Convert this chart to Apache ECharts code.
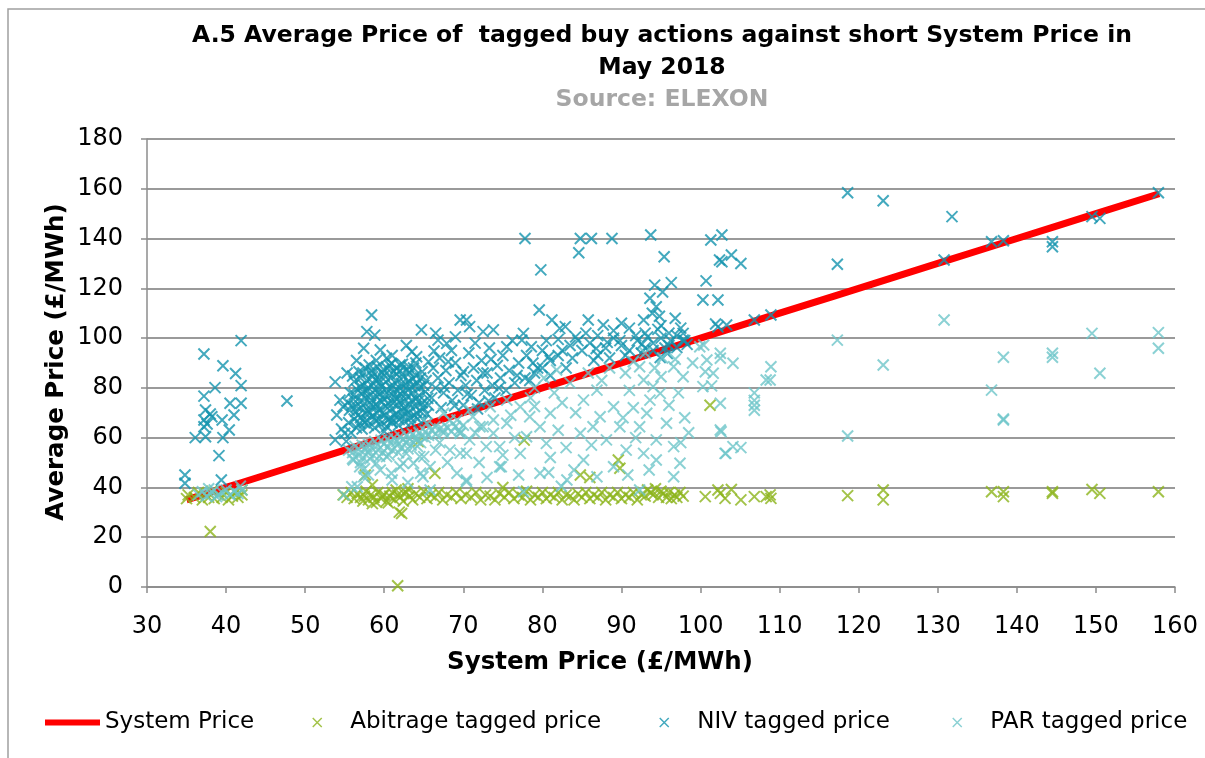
<!DOCTYPE html>
<html>
<head>
<meta charset="utf-8">
<script src="https://cdn.jsdelivr.net/npm/echarts@6/dist/echarts.min.js"></script>
<style>html,body{margin:0;padding:0;background:#fff;}#c{width:1205px;height:758px;}</style>
</head>
<body>
<div id="c"></div>
<script>
// ---- Data ----
var xTicks = [30,40,50,60,70,80,90,100,110,120,130,140,150,160];
var yTicks = [0,20,40,60,80,100,120,140,160,180];

// System price values (the line plots system price against itself)
var systemPrice = [35,37,38,40,42,48,54,55,57,60,65,70,75,80,85,90,95,98,101,103,105,107,109,117,118.6,123,131,137,138,144.5,149.5,150.5,158];

var abitrage = [
[35,35.5],[35.2,37],[36,36],[36.5,38],[37,35],[37.3,37.5],[37.8,36],[38.2,38.5],[38.5,35.5],[39,37],[39.5,36],[40,38],[40.3,35],[40.8,36.5],[41.2,38],[41.5,36],[42,37],[42,39],[38,22.3],
[54.8,37],[55.3,36],[55.8,38],[56.2,35.5],[56.6,37.5],[57,36],[57.3,34.5],[57.7,38.5],[58,35],[58.3,37],[58.7,36],[59,34],[59.2,38],[59.6,35.5],[60,37],[60.3,34.5],[60.7,36.5],[61,38],[61.3,35],[61.7,37],[62,36],[62.4,34.5],[62.8,38],[63.2,36.5],[63.6,35],[64,37.5],[64.5,36],[65,38.5],[65.4,35.5],[65.9,37],[66.4,36],[66.9,38],[67.4,35],[67.9,37],[68.5,36],[69.1,38],[69.7,35.5],[70.3,37],[71,36],[71.6,38],[72.2,35],[72.8,37],[73.4,36.5],[74,35],[74.6,37.5],[75.2,36],[75.8,38],[76.4,35.5],[77,37],[77.5,36],[78,38.5],[78.5,35],[79,37],[79.5,36],[80,38],[80.5,35.5],[81,37],[81.5,36],[82,38],[82.5,35],[83,37],[83.5,36.5],[84,35],[84.5,37.5],[85,36],[85.5,38],[86,35.5],[86.5,37],[87,36],[87.5,38],[88,35],[88.5,37],[89,36],[89.5,38],[90,35.5],[90.5,37],[91,36],[91.5,38],[92,35],[92.5,37],[93,36.5],[93.3,39],[93.7,38],[94,37],[94.3,39.5],[94.7,36],[95,38.5],[95.3,37.5],[95.7,36],[96,38],[96.3,35.5],[96.7,37],[97,36],[97.4,38],[97.8,36.5],[58.5,33.5],[60.5,33.8],[59.8,36.8],[61.5,39],[62.5,37.5],[57.5,36.5],
[57.6,45],[66.4,45.7],[84.8,45],[89.8,47.7],[89.6,51],[77.7,59],[64.3,58.4],[61.9,30.1],[62.2,29.5],[61.7,0.5],[101.2,73],[58.5,41],[86,44],[75,40],[63,39.5],
[100.6,36.3],[102.2,39],[102.5,37.6],[103.1,35.6],[103.9,39.2],[105.1,35],[106.8,36.3],[108.3,36.3],[108.8,37],[108.9,35.6],
[118.6,36.7],[123.1,39],[123.1,35],[136.8,38.3],[138.3,38.3],[138.3,36.3],[144.5,38.3],[144.5,37.6],[149.5,39.2],[150.5,37.6],[157.9,38.3]
];

var niv = [
[41.9,99],[37.2,93.6],[39.6,88.9],[41.2,85.8],[41.9,80.9],[38.6,80.1],[37.2,76.7],[40.5,73.8],[41.9,73.8],[37.4,71.1],[38.2,68.4],[41.0,69.1],[39.5,67.1],[37.2,67.1],[37.2,64.4],[37.6,65.5],[38.0,69.5],[40.4,63.1],[36.1,60.0],[37.4,60.4],[39.6,60.0],[39.1,52.8],[34.8,45.0],[34.8,41.7],[39.4,43.0],[47.7,74.7],[53.8,82.4],
[55.8,62],[56.5,64],[57.2,63.5],[58,65],[58.8,64],[59.5,65.5],[60.3,64.5],[61,66],[61.8,65],[62.6,66.5],[63.4,66],[64.2,67.5],[65,67],
[55.5,66],[56.2,67.5],[57,68],[57.8,67],[58.5,68.5],[59.3,67.5],[60,69],[60.8,68],[61.5,69.5],[62.3,68.5],[63,70],[63.8,69],[64.6,70.5],[65.4,69.5],
[55.6,71],[56.4,70.5],[57.1,72],[57.9,71],[58.7,72.5],[59.4,71.5],[60.2,72.5],[61,71.5],[61.7,73],[62.5,72],[63.2,73.5],[64,72.5],[64.8,74],[65.6,73],
[55.4,74],[56.1,75.5],[56.9,74.5],[57.6,76],[58.4,75],[59.1,76.5],[59.9,75.5],[60.6,77],[61.4,76],[62.1,77.5],[62.9,76.5],[63.6,78],[64.4,77],[65.2,78.5],
[55.7,78],[56.5,79.5],[57.3,78.5],[58,80],[58.8,79],[59.6,80.5],[60.3,79.5],[61.1,81],[61.9,80],[62.7,81.5],[63.4,80.5],[64.2,82],[65,81],
[56.2,82.5],[57,84],[57.8,83],[58.5,84.5],[59.3,83.5],[60,85],[60.8,84],[61.6,85.5],[62.4,84.5],[63.2,86],[64,85],[64.8,86.5],
[56.8,86.5],[57.6,88],[58.4,87],[59.1,88.5],[59.9,87.5],[60.7,89],[61.5,88],[62.3,89.5],[63.1,88.5],[64,90],
[57.5,66],[58.2,70],[59,73.5],[59.8,70],[60.5,74],[61.2,78],[59.4,82],[58.2,77],[57.4,81],[60.9,66.5],[62,75],[63,79],[64,75.5],[62.8,71],[61.5,83],[58.6,86],[56.5,72.5],[57.2,77.5],[60,62.5],[59.2,78.2],[63.6,83.5],[64.5,80],[58.9,66.8],[61.3,69],[62.2,81.8],
[56.9,65.8],[57.7,69.5],[58.3,73.2],[59.1,69.8],[59.7,74.2],[60.4,67],[61.1,73.8],[61.9,67.3],[62.6,74.5],[63.3,68],[64.1,70],[64.9,72],[65.5,75.8],[56.2,77.4],[57,80.6],[57.9,78.8],[58.6,81.8],[59.5,77.8],[60.2,82.5],[60.9,79.8],[61.7,78.6],[62.4,79],[63.1,82.8],[63.9,80.8],[64.6,84],[65.3,83],[56,84.8],[57.3,86],[58.1,89.2],[59.7,86.2],[60.4,87.8],[61.2,86.6],[62,87],[62.9,87.2],[63.7,88],[56.7,69],[55.9,73],[57.5,73.8],[60.1,77.2],[62.3,70.5],[63.5,75.2],[64.3,74.6],[61.6,75.4],[58.9,83.4],
[58.4,109.3],[57.8,102.6],[58.8,101.2],[57.4,95.9],[59.5,95.2],[60.3,91.9],[60.9,89.9],[63.5,94.5],[64.7,103.3],[66.8,99.2],[67.9,97.9],[68.1,90.5],[65.6,90.5],[62,89.2],[61,93],[59,91],[56.5,91],[62.8,97],[64.1,92.5],[66.3,94.8],[55.3,86],
[54.4,75.1],[54.8,72.4],[54,69.1],[53.8,59.1],[55,61.8],[54.6,63.5],[55.2,58.5],
[66,76],[66.5,80],[66.8,84],[67.2,72],[67.5,78],[67.8,87],[68.2,82],[68.6,75],[69,90],[69.3,79],[69.7,85],[70,73],[70.3,81],[70.7,94],[71,77],[71.3,88],[71.7,83],[72,74],[72.3,91],[72.7,79],[73,86],[73.3,96],[73.7,81],[74,76],[74.3,89],[74.7,84],[75,93],[75.4,79],[75.8,87],[76.2,99],[76.5,82],[77,90],[66.2,88],[67,92],[68.5,95],[70,86.5],[71.5,98],[72.5,86],[73.5,91.5],[74.5,80],[75.5,96.5],[76.8,85],[69.6,107.3],[70.4,107.3],[72.5,102.6],[73.8,103.3],[70.8,104.6],[69,100.5],[66.5,102],[67.6,80.3],[68.9,72.8],[70.5,77.5],[71.8,71.5],[73.2,74.7],
[77.6,101.9],[77.4,99.2],[78,93],[78.8,90],[79.4,88],[78.4,83],[80,88],[81,91],[82,93],[80,95],[79,86],[83,88],[77.8,84],[81,85],[82.5,95],[83.5,97],[79.6,111.3],[81.2,107.3],[82.2,103.9],[82.9,104.6],[79.8,127.4],[77.8,140],[80.5,99],[82,99.5],[83.8,92],[84.2,100.5],[80.8,92.5],[78.6,96.5],
[84.8,140],[86.2,140],[88.8,140],[93.7,141.4],[84.6,134.3],[95.4,132.7],[94.2,121.3],[96.3,122.3],[93.6,116],[94.4,112.6],[85.8,107.3],[92.8,107.3],[96.8,108],[87.7,105.3],[90,106],[85,95],[86,98],[87,93],[88,96],[89,100],[90,97],[91,95],[92,99],[93,96],[94,98],[95,100],[96,97],[97,101],[98,99],[86.5,91],[88.5,92],[90.5,93],[92.5,94],[94,95],[95.5,96],[93,102],[91,104],[89,103],[87,101],[96,102],[97.5,104],[85.5,102],[84.5,99],[93.3,100.5],[94.6,103.5],[95,105],[96.2,99],[97.8,101.9],[97.8,99.2],[91.8,101],[89.8,99],[88.2,98.3],[86.8,95.8],[92.6,97.6],[95.8,93.8],[94.9,92.2],[97,96.2],[98.3,97.5],[93.9,110],[95.2,118.5],[94.8,108.8],
[101.3,139.4],[102.7,141.4],[102.4,131.4],[102.7,130.7],[103.9,133.4],[105.1,130],[100.7,123],[100.3,115.3],[102.2,115.3],[101.9,105.7],[103.3,105.3],[106.8,107.3],[108.9,109.3],[102.2,104.5],
[118.6,158.4],[123.1,155.2],[131.8,148.8],[157.9,158.4],[149.5,148.8],[150.5,148.1],[136.8,138.7],[138.3,139.1],[144.5,138.7],[144.5,136.7],[130.8,131.4],[117.3,129.7]
];

var par = [
[36.5,37],[37,38.3],[37.5,36.5],[38,37.5],[38.5,39],[39,37],[39.5,38],[40,39],[40.5,37],[41,38.5],[41.5,37.5],[42,39],[41.8,40.5],[38.8,36.3],[37.8,39.5],
[55.5,55],[56,54],[56.3,56.5],[56.8,55.5],[57.2,57],[57.6,55],[58,57.5],[58.4,56],[58.8,58.5],[59.2,57],[59.6,59],[60,57.5],[60.4,59.5],[60.8,58],[61.2,60],[61.6,58.5],[62,60.5],[62.4,59],[62.8,61],[63.2,59.5],[63.6,61.5],[64,60],[64.4,62],[64.8,60.5],[65.2,62.5],[65.6,61],[66,63],[66.5,61.5],[67,63.5],[67.5,62],[68,64],[68.5,62.5],[69,64.5],[69.5,63],[70,65],
[56,51.5],[56.7,53],[57.3,52],[58,54],[58.6,53],[59.2,55],[59.8,54],[60.4,56],[61,55],[61.6,57],[62.2,56],[62.8,58],[63.4,57],[64,59],[64.6,58],[65.2,60],[57,50],[58.2,51.5],[59.4,52.5],[60.6,53],[61.8,54],[63,55.5],[64.2,56.5],
[56.1,51],[56.9,48.3],[57.8,56.4],[55.9,40.3],[54.9,37],[56.6,40.3],[57.4,44.3],[59.5,47],[62,48.3],[63.7,49.7],[65,52.4],[64.6,45.7],[65.8,39],[59,49.7],[60.3,52.4],[60.9,45.7],[62.4,49.7],[62.8,53.7],[64.5,52.4],[65.8,48.3],[64.9,44.3],[58,45],[61,43],[63,42],[57.5,47.5],
[65.4,65.8],[66.4,64.4],[67.5,63.1],[69.6,61.8],[70.8,59.1],[72.1,64.4],[73.8,61.8],[75.5,65.8],[72.9,56.4],[70.4,53.7],[69.2,45.7],[74.6,48.3],[70.4,42.3],[68.3,67.1],[69.6,61.9],[71.2,68.4],[72.5,64.4],[73.8,67.1],[74.6,56.4],[69.6,53.8],[68.3,55],[70.4,43],[74.8,48.3],[77.2,72.4],[67.5,69.8],[69.2,67.1],[70.8,71.1],[73.4,72.4],[75.5,75.1],[71.5,62],[76,69],[76.5,60],[67,58],[68,50],[72,50],[75,53],[77,45],[73,44],[66.5,55],
[78.4,68.4],[79.7,64.4],[81,69.8],[78,60.4],[80.5,57.7],[77.2,53.7],[79.7,45.7],[77.6,38.3],[83.1,43],[84.8,61.8],[86.4,64.4],[85.2,75.1],[86.9,79.1],[89,72.4],[87.3,68.4],[89.8,64.4],[88.1,59.1],[90.6,55],[85.2,51],[89,48.3],[86.9,44.3],[79,80],[80.2,84],[81.5,78],[82.5,74],[83.5,82],[84.2,70],[82,63],[81,52],[83,56],[85.8,86],[87.5,83],[88.5,88],[78.5,76],[80.8,46],[82.4,40.5],[84,47],[79,72.5],[81.8,87.2],[86.2,57],
[92.3,88.5],[92.8,83.2],[94,80.5],[93.6,75.1],[94.9,77.8],[93.2,69.8],[95.7,65.8],[92.3,64.4],[94.4,59.1],[96.6,56.4],[92.8,53.7],[94.4,51],[97.4,49.7],[96.6,44.3],[92.3,39],[96.6,88.5],[97.8,84.5],[99.9,96.5],[90.5,86],[91,79],[91.5,72],[90.2,68],[91.8,60],[90.8,45],[93.5,47],[95.2,92],[96,73],[97.2,78],[98,68],[98.5,62],[97.5,58],[95,84.5],[99,90],[91.5,90.5],[94.2,88],[96.8,91.5],[93,94],
[100.8,91.2],[102.5,93.9],[104.1,89.9],[101.6,85.9],[100.3,80.5],[102.5,73.8],[102.5,63.1],[103.1,53.7],[104.1,56.4],[100.4,97.2],[100.6,86.5],[102.5,91.9],[101.4,80.8],[102.6,62.4],[106.8,78],[106.8,75],[106.8,73],[106.8,71],[108.3,83.2],[108.9,88.5],[108.8,83.2],[105.1,56],[103.2,53.7],
[130.8,107.3],[117.3,99.2],[123.1,89.2],[149.5,101.9],[157.9,102.2],[157.9,95.9],[138.3,92.3],[144.5,93.9],[144.5,92.3],[150.5,85.9],[136.8,79.1],[138.3,67.1],[138.3,67.5],[118.6,60.7]
];

var seriesNames = ['System Price','Abitrage tagged price','NIV tagged price','PAR tagged price'];
var titleLines = ['A.5 Average Price of  tagged buy actions against short System Price in','May 2018'];
var sourceText = 'Source: ELEXON';
var xName = 'System Price (£/MWh)';
var yName = 'Average Price (£/MWh)';

// ---- Chart ----
var FONT = '"DejaVu Sans", sans-serif';
var CROSS = 'path://M0,0L10,10M10,0L0,10';
var colors = {sp:'#ff0000', ab:'#8cb41c', niv:'#1494ae', par:'#6ec6c9'};

var chart = echarts.init(document.getElementById('c'), null, {renderer:'canvas'});

function scatterSeries(name, data, color) {
  return {
    name: name, type: 'scatter', data: data,
    symbol: CROSS, symbolSize: 11,
    itemStyle: {color: 'rgba(0,0,0,0)', borderColor: color, borderWidth: 2},
    emphasis: {disabled: true}, silent: true
  };
}
function legendFor(name, left, opts) {
  return Object.assign({
    data: [name], left: left, top: 711, orient: 'horizontal', padding: 0,
    textStyle: {fontSize: 23, fontFamily: FONT, color: '#000'},
    selectedMode: false
  }, opts);
}

var option = {
  animation: false,
  backgroundColor: '#fff',
  grid: {left: 147, right: 30, top: 139, bottom: 171, containLabel: false},
  xAxis: {
    type: 'value', min: 30, max: 160, interval: 10,
    axisLine: {show: true, onZero: false, lineStyle: {color: '#8c8c8c', width: 1.5}},
    axisTick: {show: true, length: 6, lineStyle: {color: '#8c8c8c', width: 1.5}},
    axisLabel: {fontSize: 24, fontFamily: FONT, color: '#000', margin: 28},
    splitLine: {show: false}
  },
  yAxis: {
    type: 'value', min: 0, max: 180, interval: 20,
    axisLine: {show: true, lineStyle: {color: '#8c8c8c', width: 1.5}},
    axisTick: {show: true, length: 6, lineStyle: {color: '#8c8c8c', width: 1.5}},
    axisLabel: {fontSize: 24, fontFamily: FONT, color: '#000', margin: 24},
    splitLine: {show: true, lineStyle: {color: '#9a9a9a', width: 2}}
  },
  legend: [
    legendFor(seriesNames[0], 45, {icon: 'rect', itemWidth: 55, itemHeight: 6}),
    legendFor(seriesNames[1], 312, {icon: CROSS, itemWidth: 56, itemHeight: 9, symbolKeepAspect: true, itemStyle: {borderWidth: 1.5}}),
    legendFor(seriesNames[2], 659, {icon: CROSS, itemWidth: 56, itemHeight: 9, symbolKeepAspect: true, itemStyle: {borderWidth: 1.5}}),
    legendFor(seriesNames[3], 952, {icon: CROSS, itemWidth: 56, itemHeight: 9, symbolKeepAspect: true, itemStyle: {borderWidth: 1.5}})
  ],
  graphic: [
    {type: 'rect', shape: {x: 8, y: 9, width: 1400, height: 900}, style: {fill: 'none', stroke: '#a0a0a0', lineWidth: 1.5}, silent: true},
    {type: 'text', x: 662, y: 36, style: {text: titleLines[0], fontSize: 23.5, fontWeight: 'bold', fontFamily: FONT, fill: '#000', align: 'center', verticalAlign: 'middle'}},
    {type: 'text', x: 662, y: 68, style: {text: titleLines[1], fontSize: 23.5, fontWeight: 'bold', fontFamily: FONT, fill: '#000', align: 'center', verticalAlign: 'middle'}},
    {type: 'text', x: 662, y: 100, style: {text: sourceText, fontSize: 23.5, fontWeight: 'bold', fontFamily: FONT, fill: '#a6a6a6', align: 'center', verticalAlign: 'middle'}},
    {type: 'text', x: 600, y: 663, style: {text: xName, fontSize: 24.5, fontWeight: 'bold', fontFamily: FONT, fill: '#000', align: 'center', verticalAlign: 'middle'}},
    {type: 'text', x: 57, y: 362, rotation: Math.PI / 2, style: {text: yName, fontSize: 24.5, fontWeight: 'bold', fontFamily: FONT, fill: '#000', align: 'center', verticalAlign: 'middle'}}
  ],
  series: [
    {
      name: seriesNames[0], type: 'line',
      data: systemPrice.map(function (v) { return [v, v]; }),
      symbol: 'none', showSymbol: false,
      lineStyle: {color: colors.sp, width: 7},
      itemStyle: {color: colors.sp},
      emphasis: {disabled: true}, silent: true, z: 1
    },
    scatterSeries(seriesNames[1], abitrage, colors.ab),
    scatterSeries(seriesNames[2], niv, colors.niv),
    scatterSeries(seriesNames[3], par, colors.par)
  ]
};
chart.setOption(option);
</script>
</body>
</html>
